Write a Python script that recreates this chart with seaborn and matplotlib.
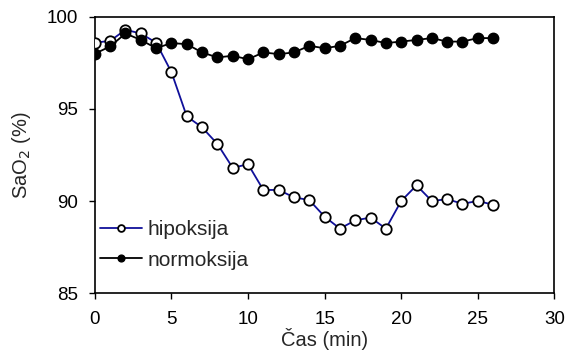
import matplotlib
matplotlib.use("Agg")
import matplotlib.pyplot as plt
import seaborn as sns
import pandas as pd

time_min = list(range(0, 27))
hipoksija = [98.6, 98.7, 99.3, 99.1, 98.6, 97.0, 94.6, 94.0, 93.1, 91.8, 92.0,
             90.6, 90.6, 90.2, 90.05, 89.15, 88.5, 88.95, 89.1, 88.5, 90.0, 90.85,
             90.0, 90.1, 89.85, 90.0, 89.8]
normoksija = [98.0, 98.4, 99.1, 98.75, 98.3, 98.58, 98.52, 98.07, 97.8, 97.89, 97.7,
              98.07, 97.98, 98.07, 98.43, 98.3, 98.43, 98.85, 98.75, 98.58, 98.66, 98.75,
              98.85, 98.66, 98.66, 98.85, 98.85]
x_ticks = [0, 5, 10, 15, 20, 25, 30]
y_ticks = [85, 90, 95, 100]

sns.set_style("ticks")
plt.rcParams['font.family'] = ['Liberation Sans', 'DejaVu Sans']
plt.rcParams['font.size'] = 13.5

df = pd.DataFrame({"t": time_min, "hipoksija": hipoksija, "normoksija": normoksija})

fig = plt.figure(figsize=(5.68, 3.6), dpi=100)
ax = fig.add_axes([0.167, 0.186, 0.809, 0.767])

sns.lineplot(data=df, x="t", y="hipoksija", ax=ax, color="#10109a", lw=1.3,
             marker="o", markersize=7.5, markerfacecolor="white",
             markeredgecolor="black", markeredgewidth=1.3, label="hipoksija", zorder=3)
sns.lineplot(data=df, x="t", y="normoksija", ax=ax, color="black", lw=1.3,
             marker="o", markersize=7.5, markerfacecolor="black",
             markeredgecolor="black", markeredgewidth=1.0, label="normoksija", zorder=4)

ax.set_xlim(0, 30)
ax.set_ylim(85, 100)
ax.set_xticks(x_ticks)
ax.set_yticks(y_ticks)
ax.tick_params(axis="both", direction="out", length=4, width=1, labelsize=13.5,
               colors="black")
ax.tick_params(axis="x", pad=9)
ax.tick_params(axis="y", pad=8)
for s in ax.spines.values():
    s.set_linewidth(1.2)
    s.set_color("black")
ax.set_xlabel("Čas (min)", fontsize=14.5, labelpad=0)
ax.set_ylabel("SaO$_2$ (%)", fontsize=14.5, labelpad=10)

leg = ax.legend(loc="lower left", frameon=False, fontsize=15, handlelength=2.0,
                handletextpad=0.25, borderaxespad=0.0, borderpad=0.0, labelspacing=0.55,
                markerscale=0.65, bbox_to_anchor=(0.012, 0.085))

fig.savefig("out.png", dpi=100)
